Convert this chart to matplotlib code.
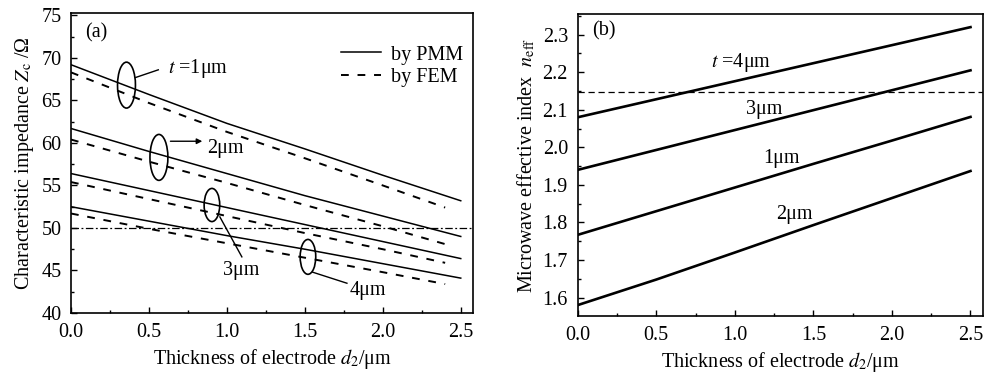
import numpy as np
import matplotlib
matplotlib.use("Agg")
import matplotlib.pyplot as plt
from matplotlib.patches import Ellipse
from matplotlib.ticker import MultipleLocator

plt.rcParams['font.family'] = ['Liberation Serif', 'DejaVu Serif']
plt.rcParams['mathtext.fontset'] = 'stix'

# (a) characteristic impedance, PMM (solid) and FEM (dashed)
d_pmm = [0.0, 0.5, 1.0, 1.5, 2.0, 2.5]
z_pmm_t1 = [69.2, 65.7, 62.3, 59.3, 56.2, 53.2]
z_pmm_t2 = [61.7, 59.0, 56.4, 53.8, 51.4, 49.0]
z_pmm_t3 = [56.4, 54.4, 52.4, 50.4, 48.4, 46.4]
z_pmm_t4 = [52.5, 50.8, 49.1, 47.5, 45.8, 44.1]

d_fem = [0.0, 0.5, 1.0, 1.5, 2.0, 2.4]
z_fem_t1 = [68.3, 64.7, 61.3, 58.2, 55.0, 52.4]
z_fem_t2 = [60.4, 57.8, 55.3, 52.7, 50.2, 48.1]
z_fem_t3 = [55.4, 53.4, 51.4, 49.4, 47.5, 45.9]
z_fem_t4 = [51.7, 49.9, 48.2, 46.5, 44.8, 43.4]

z_ref = 50.0

# (b) microwave effective index
d_n = [0.0, 0.5, 1.0, 1.5, 2.0, 2.5]
n_t4 = [2.080, 2.128, 2.176, 2.224, 2.272, 2.320]
n_t3 = [1.940, 1.993, 2.046, 2.099, 2.152, 2.205]
n_t1 = [1.767, 1.830, 1.893, 1.956, 2.018, 2.081]
n_t2 = [1.580, 1.648, 1.720, 1.793, 1.865, 1.937]

n_ref = 2.147

xt = [0, 0.5, 1.0, 1.5, 2.0, 2.5]
xtl = ['0.0', '0.5', '1.0', '1.5', '2.0', '2.5']

fs = 14.5
fig = plt.figure(figsize=(9.9, 3.78), dpi=100)
ax1 = fig.add_axes([0.0717, 0.172, 0.4063, 0.794])
ax2 = fig.add_axes([0.5835, 0.164, 0.4095, 0.799])

for ax in (ax1, ax2):
    ax.tick_params(which='both', direction='in', labelsize=fs, top=False, right=False)
    ax.tick_params(which='major', length=4, width=1, pad=7)
    ax.tick_params(which='minor', length=2.5, width=1)
    for s in ax.spines.values():
        s.set_linewidth(1.2)
    ax.set_xlim(0, 2.58)
    ax.set_xticks(xt)
    ax.set_xticklabels(xtl)
    ax.xaxis.set_minor_locator(MultipleLocator(0.25))
    ax.set_xlabel(r'Thickness of electrode $d_2$/μm', fontsize=fs, labelpad=4)

# panel (a)
k = dict(color='black', lw=1.1)
kd = dict(color='black', lw=1.4, dashes=(4, 4.5))
ax1.plot(d_pmm, z_pmm_t1, label='by PMM', **k)
ax1.plot(d_fem, z_fem_t1, label='by FEM', **kd)
for zp, zf in [(z_pmm_t2, z_fem_t2), (z_pmm_t3, z_fem_t3), (z_pmm_t4, z_fem_t4)]:
    ax1.plot(d_pmm, zp, **k)
    ax1.plot(d_fem, zf, **kd)
ax1.axhline(z_ref, color='black', lw=0.9, ls=(0, (6, 2, 1.5, 2)))

ax1.set_ylim(40, 75.3)
ax1.yaxis.set_major_locator(MultipleLocator(5))
ax1.yaxis.set_minor_locator(MultipleLocator(2.5))
ax1.set_ylabel(r'Characteristic impedance $Z_{\rm c}$ /Ω', fontsize=fs, labelpad=4)
ax1.text(0.09, 72.9, '(a)', fontsize=fs, va='center')

ax1.legend(loc='upper right', bbox_to_anchor=(1.0, 0.925), frameon=False, fontsize=fs,
           handlelength=2.0, handletextpad=0.5, labelspacing=0.15, borderaxespad=0.1)

ellipses = [(0.356, 66.8, 0.115, 5.4), (0.564, 58.3, 0.115, 5.4),
            (0.904, 52.7, 0.1, 3.9), (1.52, 46.6, 0.1, 4.1)]
for cx, cy, w, h in ellipses:
    ax1.add_patch(Ellipse((cx, cy), w, h, fill=False, lw=1.2, color='black'))

ax1.plot([0.415, 0.56], [67.7, 68.6], color='black', lw=1)
ax1.text(0.62, 68.7, r'$t$ =1μm', fontsize=fs, va='center')
ax1.annotate('', xy=(0.86, 60.2), xytext=(0.62, 60.2),
             arrowprops=dict(arrowstyle='-|>', color='black', lw=1, mutation_scale=8))
ax1.text(0.875, 59.4, '2μm', fontsize=fs, va='center')
ax1.plot([0.955, 1.096], [51.3, 46.6], color='black', lw=1)
ax1.text(1.09, 45.0, '3μm', fontsize=fs, va='center', ha='center')
ax1.plot([1.55, 1.77], [44.8, 43.5], color='black', lw=1)
ax1.text(1.79, 42.7, '4μm', fontsize=fs, va='center')

# panel (b)
kb = dict(color='black', lw=1.9)
ax2.plot(d_n, n_t4, **kb)
ax2.plot(d_n, n_t3, **kb)
ax2.plot(d_n, n_t1, **kb)
ax2.plot(d_n, n_t2, **kb)
ax2.axhline(n_ref, color='black', lw=0.9, dashes=(5, 3))

ax2.set_ylim(1.551, 2.355)
ax2.yaxis.set_major_locator(MultipleLocator(0.1))
ax2.yaxis.set_minor_locator(MultipleLocator(0.05))
ax2.set_ylabel(r'Microwave effective index  $n_{\rm eff}$', fontsize=fs, labelpad=4)
ax2.text(0.09, 2.31, '(b)', fontsize=fs, va='center')
ax2.text(0.85, 2.225, r'$t$ =4μm', fontsize=fs, va='center')
ax2.text(1.07, 2.10, '3μm', fontsize=fs, va='center')
ax2.text(1.18, 1.97, '1μm', fontsize=fs, va='center')
ax2.text(1.26, 1.82, '2μm', fontsize=fs, va='center')

fig.savefig('out.png', dpi=100)
